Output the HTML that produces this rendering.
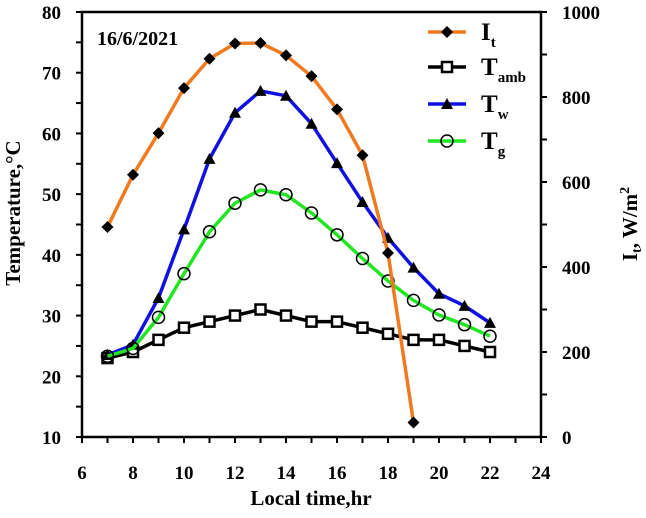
<!DOCTYPE html>
<html><head><meta charset="utf-8"><style>
body{margin:0;background:#fff}
svg text{font-family:"Liberation Serif",serif;font-weight:bold;fill:#000}
</style></head><body>
<svg id="c" width="646" height="513"></svg>
<script>
const hours=[7,8,9,10,11,12,13,14,15,16,17,18,19,20,21,22];
const itHours=[7,8,9,10,11,12,13,14,15,16,17,18,19];
const It=[494,617,715,821,890,926,927,898,849,771,663,433,34];
const Tamb=[23,24,26,28,29,30,31,30,29,29,28,27,26,26,25,24];
const Tw=[23.5,25.2,32.9,44.2,55.8,63.4,67,66.2,61.6,55.1,48.7,42.8,37.9,33.6,31.6,28.8];
const Tg=[23.3,24.6,29.7,36.9,43.8,48.5,50.7,49.9,46.9,43.3,39.4,35.7,32.5,30.1,28.5,26.6];
const xTicks=[6,8,10,12,14,16,18,20,22,24];
const yTicks=[10,20,30,40,50,60,70,80];
const rTicks=[0,200,400,600,800,1000];
const L=82,R=541,T=12,B=437;
const X=v=>L+(v-6)/18*(R-L);
const Y=v=>B-(v-10)/70*(B-T);
const YR=v=>B-v/1000*(B-T);
const svg=document.getElementById('c');
const NS='http://www.w3.org/2000/svg';
function mk(tag,at,parent){const e=document.createElementNS(NS,tag);for(const k in at)e.setAttribute(k,at[k]);(parent||svg).appendChild(e);return e;}
let e;
e=mk('rect',{x:L,y:T,width:R-L,height:B-T,fill:'none',stroke:'#000','stroke-width':2.5});


for(let h=6;h<=24;h++){mk('line',{x1:X(h),x2:X(h),y1:B,y2:B+6,stroke:'#000','stroke-width':2});}
xTicks.forEach(v=>{e=mk('text',{x:X(v),y:479,'text-anchor':'middle','font-size':19});e.textContent=v;

});
for(let v=10;v<=80;v+=5){mk('line',{x1:L-6,x2:L,y1:Y(v),y2:Y(v),stroke:'#000','stroke-width':2});}
yTicks.forEach(v=>{e=mk('text',{x:L-21,y:Y(v)+7,'text-anchor':'end','font-size':19});e.textContent=v;

});
for(let v=0;v<=1000;v+=100){mk('line',{x1:R,x2:R+6,y1:YR(v),y2:YR(v),stroke:'#000','stroke-width':2});}
rTicks.forEach(v=>{e=mk('text',{x:R+21,y:YR(v)+7,'text-anchor':'start','font-size':19});e.textContent=v;

});
e=mk('text',{x:311,y:505,'text-anchor':'middle','font-size':21});e.textContent='Local time,hr';


e=mk('text',{x:0,y:0,'text-anchor':'middle','font-size':21,transform:'translate(20,213) rotate(-90)'});e.textContent='Temperature,°C';


e=mk('text',{x:0,y:0,'text-anchor':'middle','font-size':21,transform:'translate(637,224) rotate(-90)'});
e.innerHTML='I<tspan font-size="14" dy="4">t</tspan><tspan dy="-4">, W/m</tspan><tspan font-size="14" dy="-8">2</tspan>';


e=mk('text',{x:97,y:45,'font-size':20});e.textContent='16/6/2021';


function marker(kind,x,y,g){
 if(kind==='d')return mk('polygon',{points:`${x},${y-6} ${x+6},${y} ${x},${y+6} ${x-6},${y}`,fill:'#000'},g);
 if(kind==='s')return mk('rect',{x:x-5,y:y-5,width:10,height:10,fill:'#fff',stroke:'#000','stroke-width':2.5},g);
 if(kind==='t')return mk('polygon',{points:`${x},${y-6} ${x+6},${y+5} ${x-6},${y+5}`,fill:'#000'},g);
 return mk('circle',{cx:x,cy:y,r:6,fill:'none',stroke:'#000','stroke-width':1.5},g);
}
function series(name,xs,vals,yf,color,kind){
 const g=mk('g',{});
 
 
 mk('polyline',{points:xs.map((h,i)=>X(h)+','+yf(vals[i])).join(' '),fill:'none',stroke:color,'stroke-width':3.5,'stroke-linejoin':'round'},g);
 xs.forEach((h,i)=>marker(kind,X(h),yf(vals[i]),g));
}
series('series-tamb',hours,Tamb,Y,'#000','s');
series('series-tw',hours,Tw,Y,'#1010e0','t');
series('series-tg',hours,Tg,Y,'#22e622','o');
series('series-it',itHours,It,YR,'#f07a20','d');
const leg=[['I','t','#f07a20','d',32],['T','amb','#000','s',67],['T','w','#1010e0','t',104],['T','g','#22e622','o',141]];
leg.forEach(l=>{const g=mk('g',{});
 
 
 mk('line',{x1:428,x2:466,y1:l[4],y2:l[4],stroke:l[2],'stroke-width':3.5},g);
 marker(l[3],447,l[4],g);
 const t=mk('text',{x:481,y:l[4]+8,'font-size':25},g);
 t.innerHTML=l[0]+'<tspan font-size="15" dy="7">'+l[1]+'</tspan>';
});
</script>
</body></html>
